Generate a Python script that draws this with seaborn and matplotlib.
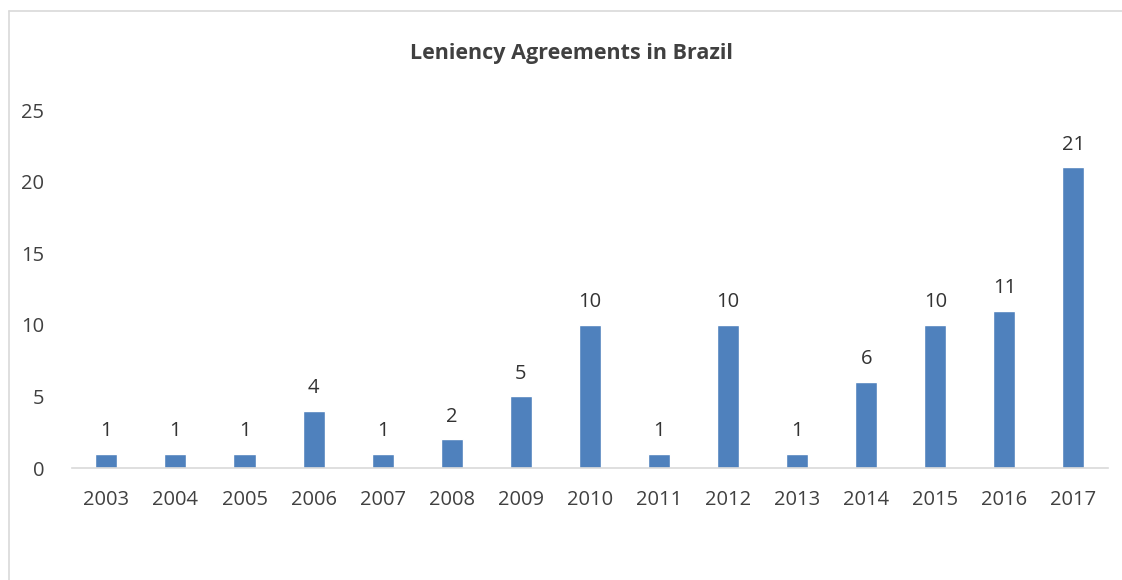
import seaborn as sns
import pandas as pd
from matplotlib import pyplot as plt
from matplotlib.lines import Line2D
import numpy as np

# Data
years = ['2003', '2004', '2005', '2006', '2007', '2008', '2009', '2010',
         '2011', '2012', '2013', '2014', '2015', '2016', '2017']
agreements = [1, 1, 1, 4, 1, 2, 5, 10, 1, 10, 1, 6, 10, 11, 21]

df = pd.DataFrame({'year': years, 'count': agreements})

sns.set_style('white')
plt.rcParams['font.family'] = ['Open Sans', 'DejaVu Sans']

fig = plt.figure(figsize=(11.22, 5.8), dpi=100)
ax = fig.add_axes([0.064, 0.193, 0.9235, 0.617])

sns.barplot(data=df, x='year', y='count', color='#4F81BD',
            width=0.32, saturation=1, ax=ax)

# value labels
for i, v in enumerate(agreements):
    ax.text(i, v + 0.9, str(v), ha='center', va='bottom',
            fontsize=14.5, color='#333333')

ax.set_ylim(0, 25)
ax.set_yticks([0, 5, 10, 15, 20, 25])
ax.set_xlim(-0.5, len(years) - 0.5)
ax.set_xlabel('')
ax.set_ylabel('')

for s in ['top', 'right', 'left']:
    ax.spines[s].set_visible(False)
ax.spines['bottom'].set_color('#D9D9D9')
ax.spines['bottom'].set_linewidth(1.2)

ax.tick_params(axis='y', length=0, labelsize=14.5, labelcolor='#404040', pad=20)
ax.tick_params(axis='x', which='major', length=0, labelsize=14.5,
               labelcolor='#404040', pad=16)
ax.set_xticks(np.arange(-0.5, len(years), 1), minor=True)
ax.tick_params(axis='x', which='minor', length=7, color='#D9D9D9', width=1.2)

fig.text(572 / 1122, 1 - 53 / 580, 'Leniency Agreements in Brazil',
         ha='center', va='center', fontsize=15.5, fontweight='bold',
         color='#404040')

# chart border (top and left edges visible)
fig.add_artist(Line2D([9 / 1122, 1.0], [1 - 11 / 580, 1 - 11 / 580],
                      color='#D9D9D9', linewidth=1.2))
fig.add_artist(Line2D([9 / 1122, 9 / 1122], [0, 1 - 11 / 580],
                      color='#D9D9D9', linewidth=1.2))

plt.savefig('out.png', dpi=100)
